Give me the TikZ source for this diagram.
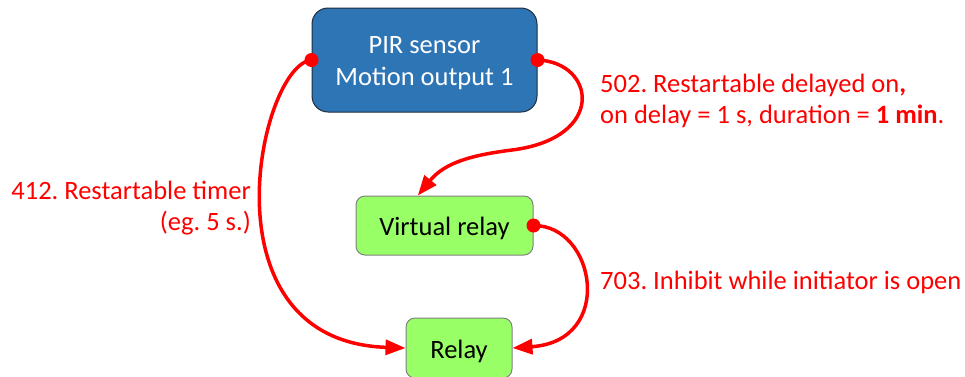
\documentclass[tikz,border=0pt]{standalone}
\usepackage{fontspec}
\setmainfont{Carlito}
\usetikzlibrary{arrows.meta,calc}
\definecolor{pirblue}{HTML}{2E75B6}
\definecolor{pirborder}{HTML}{1F2A3C}
\definecolor{relaygreen}{HTML}{99FF66}
\definecolor{relayborder}{HTML}{808080}
\definecolor{linkred}{HTML}{FF0000}
\tikzset{
  pirbox/.style={draw=pirborder, line width=1pt, fill=pirblue, rounded corners=16pt,
    text=white, inner sep=0pt, font=\fontsize{26.5}{32}\selectfont},
  relaybox/.style={draw=relayborder, line width=1pt, fill=relaygreen, rounded corners=9pt,
    text=black, inner sep=0pt, font=\fontsize{26.5}{32}\selectfont},
  link/.style={draw=linkred, line width=3.5pt, -{Triangle[length=20pt,width=15pt]}},
  linklabel/.style={text=linkred, inner sep=0pt, font=\fontsize{26.5}{31}\selectfont},
  dot/.style={fill=linkred}
}
\begin{document}
\frenchspacing
\setlength{\tabcolsep}{0pt}
\begin{tikzpicture}[x=1pt,y=-1pt]
\useasboundingbox (0,0) rectangle (965,376);
\node[pirbox, minimum width=225pt, minimum height=104pt] (pir) at (424.5,60) {\raisebox{-3pt}[\height][\depth]{\begin{tabular}{c}PIR sensor\\Motion output 1\end{tabular}}};
\node[relaybox, minimum width=177pt, minimum height=59pt] (vr) at (444.5,225.5) {\raisebox{-3pt}[\height][\depth]{Virtual relay}};
\node[relaybox, minimum width=106pt, minimum height=60pt] (relay) at (459,348) {\raisebox{-3pt}[\height][\depth]{Relay}};
\coordinate (vrtop) at ($(vr.north west)!0.35!(vr.north east)$);
\coordinate (mid) at (512,150);
\draw[link] (pir.west) .. controls +(-52,5) and +(-206,-7) .. (relay.west);
\draw[link] (pir.east) .. controls +(58,2) and +(95,-12) .. (mid) .. controls +(-40,5) and +(27,-33) .. (vrtop);
\draw[link] (vr.east) .. controls +(62,-0.5) and +(103,-7) .. (relay.east);
\fill[dot] (pir.west) circle (7);
\fill[dot] (pir.east) circle (7);
\fill[dot] (vr.east) circle (7);
\node[linklabel, align=left, anchor=base west] (l502) at (600,123) {502. Restartable delayed on\textbf{,}\\on delay = 1 s, duration = \textbf{1 min}.};
\node[linklabel, align=right, anchor=base east] (l412) at (251,230) {412. Restartable timer\\(eg. 5 s.)};
\node[linklabel, anchor=base west] (l703) at (600,289) {703. Inhibit while initiator is open};
\end{tikzpicture}
\end{document}
